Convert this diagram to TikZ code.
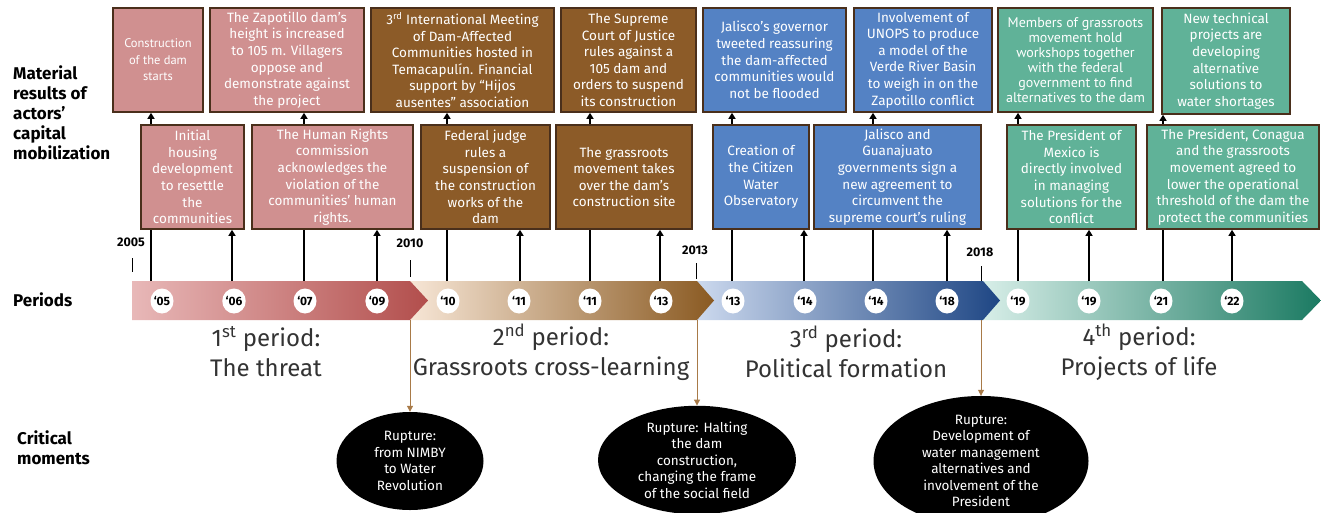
\documentclass[tikz,border=0pt]{standalone}
\usepackage{fontspec}
\setmainfont{Fira Sans}
\newfontfamily\ptsans{PT Sans}
\usetikzlibrary{arrows.meta,shapes.geometric}
\definecolor{pinkbox}{HTML}{D09090}
\definecolor{brownbox}{HTML}{8C5B28}
\definecolor{bluebox}{HTML}{5482C4}
\definecolor{tealbox}{HTML}{60B298}
\definecolor{boxborder}{HTML}{4A2F1B}
\definecolor{rupt}{HTML}{A87A48}
\definecolor{pertext}{HTML}{333333}
\begin{document}
\begin{tikzpicture}[x=1pt,y=-1pt,
  evbox/.style={draw=boxborder, line width=1.6pt, text=white, align=center, inner sep=0pt,
    minimum height=104pt, font=\fontsize{13.5}{16.6}\selectfont},
  evarrow/.style={-{Triangle[length=6pt,width=7pt]}, line width=1.4pt},
  rarrow/.style={draw=rupt, line width=1pt, -{Triangle[length=6pt,width=6pt]}},
  marker/.style={ellipse, fill=white, minimum width=23pt, minimum height=25pt, inner sep=0pt,
    font=\bfseries\fontsize{12}{12}\selectfont},
  yearlbl/.style={font=\bfseries\fontsize{12.5}{13}\selectfont, inner sep=0pt},
  sidelbl/.style={font=\bfseries\fontsize{17}{20}\selectfont, align=left, anchor=north west, inner sep=0pt},
  perlbl/.style={font=\fontsize{24}{30}\selectfont, text=pertext, align=center, inner sep=0pt},
  rupture/.style={ellipse, fill=black, text=white, inner sep=0pt, align=center,
    font=\fontsize{13.5}{16.5}\selectfont}
]
\useasboundingbox (0,0) rectangle (1321,512);

% ---- timeline band (right to left so tips overlay)
\shade[left color={rgb,255:red,215;green,238;blue,232}, right color={rgb,255:red,27;green,122;blue,98}]
  (983,281) -- (1302,281) -- (1321,300.5) -- (1302,320) -- (983,320) -- cycle;
\shade[left color={rgb,255:red,204;green,217;blue,238}, right color={rgb,255:red,30;green,70;blue,132}]
  (697,281) -- (983,281) -- (1000,300.5) -- (983,320) -- (697,320) -- cycle;
\shade[left color={rgb,255:red,247;green,230;blue,214}, right color={rgb,255:red,138;green,90;blue,34}]
  (410,281) -- (697,281) -- (714,300.5) -- (697,320) -- (410,320) -- cycle;
\shade[left color={rgb,255:red,232;green,184;blue,184}, right color={rgb,255:red,178;green,78;blue,76}]
  (132,281) -- (410,281) -- (428,300.5) -- (410,320) -- (132,320) -- cycle;

% ---- markers
\foreach \n/\x/\t in {1/162/05,2/234/06,3/305/07,4/377/09,5/448/10,6/519/11,7/590/11,8/661/13,
  9/733/13,10/805/14,11/876/14,12/947/18,13/1018/19,14/1089/19,15/1161/21,16/1232/22}{
  \node[marker] (m\n) at (\x,301) {‘\t};
}

% ---- arrow start coordinates on band top
\foreach \n/\x in {1/151,2/232,3/304,4/377,5/447,6/520,7/590,8/660,9/732,10/804,11/873,12/947,13/1018,14/1089,15/1163,16/1232}{
  \coordinate (t\n) at (\x,281);
}

% ---- top-row boxes
\path (158,60) node[evbox, fill=pinkbox, minimum width=90pt, font=\ptsans\fontsize{12.5}{16.6}\selectfont] (A1) {Construction\\of the dam\\starts}
  (287,60) node[evbox, fill=pinkbox, minimum width=154pt] (A2) {The Zapotillo dam’s\\height is increased\\to 105 m. Villagers\\oppose and\\demonstrate against\\the project}
  (462.5,60) node[evbox, fill=brownbox, minimum width=183pt] (B1) {3\textsuperscript{rd} International Meeting\\of Dam-Affected\\Communities hosted in\\Temacapulín. Financial\\support by “Hijos\\ausentes” association}
  (628.5,60) node[evbox, fill=brownbox, minimum width=135pt] (B2) {The Supreme\\Court of Justice\\rules against a\\105 dam and\\orders to suspend\\its construction}
  (774.5,60) node[evbox, fill=bluebox, minimum width=143pt] (C1) {Jalisco’s governor\\tweeted reassuring\\the dam-affected\\communities would\\not be flooded}
  (923,60) node[evbox, fill=bluebox, minimum width=138pt] (C2) {Involvement of\\UNOPS to produce\\a model of the\\Verde River Basin\\to weigh in on the\\Zapotillo conflict}
  (1075.5,60) node[evbox, fill=tealbox, minimum width=155pt, font=\ptsans\fontsize{14}{15}\selectfont] (D1) {Members of grassroots\\movement hold\\workshops together\\with the federal\\government to find\\alternatives to the dam}
  (1226,61) node[evbox, fill=tealbox, minimum width=128pt, minimum height=106pt] (D2) {New technical\\projects are\\developing\\alternative\\solutions to\\water shortages};

% ---- arrows to top row (drawn before second row so they pass behind)
\draw[evarrow] (t1) -- (A1.south -| t1);
\draw[evarrow] (t3) -- (A2.south -| t3);
\draw[evarrow] (t5) -- (B1.south -| t5);
\draw[evarrow] (t7) -- (B2.south -| t7);
\draw[evarrow] (t9) -- (C1.south -| t9);
\draw[evarrow] (t11) -- (C2.south -| t11);
\draw[evarrow] (t13) -- (D1.south -| t13);
\draw[evarrow] (t15) -- (D2.south -| t15);

% ---- second row boxes
\path (192.5,177) node[evbox, fill=pinkbox, minimum width=103pt] (A3) {Initial\\housing\\development\\to resettle\\the\\communities}
  (332.5,177) node[evbox, fill=pinkbox, minimum width=161pt] (A4) {The Human Rights\\commission\\acknowledges the\\violation of the\\communities’ human\\rights.}
  (485.5,177) node[evbox, fill=brownbox, minimum width=129pt] (B3) {Federal judge\\rules a\\suspension of\\the construction\\works of the\\dam}
  (624,177) node[evbox, fill=brownbox, minimum width=136pt] (B4) {The grassroots\\movement takes\\over the dam’s\\construction site}
  (761,177) node[evbox, fill=bluebox, minimum width=96pt] (C3) {Creation of\\the Citizen\\Water\\Observatory}
  (897.5,177) node[evbox, fill=bluebox, minimum width=167pt] (C4) {Jalisco and\\Guanajuato\\governments sign a\\new agreement to\\circumvent the\\supreme court’s ruling}
  (1071.5,177) node[evbox, fill=tealbox, minimum width=129pt] (D3) {The President of\\Mexico is\\directly involved\\in managing\\solutions for the\\conflict}
  (1233,177) node[evbox, fill=tealbox, minimum width=172pt] (D4) {The President, Conagua\\and the grassroots\\movement agreed to\\lower the operational\\threshold of the dam the\\protect the communities};

\draw[evarrow] (t2) -- (A3.south -| t2);
\draw[evarrow] (t4) -- (A4.south -| t4);
\draw[evarrow] (t6) -- (B3.south -| t6);
\draw[evarrow] (t8) -- (B4.south -| t8);
\draw[evarrow] (t10) -- (C3.south -| t10);
\draw[evarrow] (t12) -- (C4.south -| t12);
\draw[evarrow] (t14) -- (D3.south -| t14);
\draw[evarrow] (t16) -- (D4.south -| t16);

% ---- year ticks and labels
\node[yearlbl] (y1) at (131,242) {2005};
\node[yearlbl] (y2) at (410,243) {2010};
\node[yearlbl] (y3) at (695,250) {2013};
\node[yearlbl] (y4) at (980,252) {2018};
\coordinate (k1a) at (132,258); \coordinate (k1b) at (132,272);
\coordinate (k2a) at (410,260); \coordinate (k2b) at (410,277);
\coordinate (k3a) at (696,263); \coordinate (k3b) at (696,279);
\coordinate (k4a) at (981,266); \coordinate (k4b) at (981,281);
\foreach \i in {1,2,3,4}{\draw[line width=1pt] (k\i a) -- (k\i b);}

% ---- side labels
\node[sidelbl] (lab1) at (13,66) {Material\\results of\\actors’\\capital\\mobilization};
\node[sidelbl, anchor=west] (lab2) at (13,300) {Periods};
\node[sidelbl] (lab3) at (17,431) {Critical\\moments};

% ---- period labels
\node[perlbl] (p1) at (266,352) {1\textsuperscript{st} period:\\The threat};
\node[perlbl] (p2) at (551,352) {2\textsuperscript{nd} period:\\Grassroots cross-learning};
\node[perlbl] (p3) at (846,352) {3\textsuperscript{rd} period:\\Political formation};
\node[perlbl] (p4) at (1139,352) {4\textsuperscript{th} period:\\Projects of life};

% ---- ruptures
\node[rupture, minimum width=147pt, minimum height=98pt] (E1) at (410,461) {Rupture:\\from NIMBY\\to Water\\Revolution};
\node[rupture, minimum width=198pt, minimum height=95pt] (E2) at (697,460) {Rupture: Halting\\the dam\\construction,\\changing the frame\\of the social field};
\node[rupture, minimum width=215pt, minimum height=96pt] (E3) at (981,461) {Rupture:\\Development of\\water management\\alternatives and\\involvement of the\\President};
\coordinate (r1) at (410,320);
\coordinate (r2) at (697,320);
\coordinate (r3) at (981,320);
\draw[rarrow] (r1) -- (E1.north);
\draw[rarrow] (r2) -- (E2.north);
\draw[rarrow] (r3) -- (E3.north);
\end{tikzpicture}
\end{document}
